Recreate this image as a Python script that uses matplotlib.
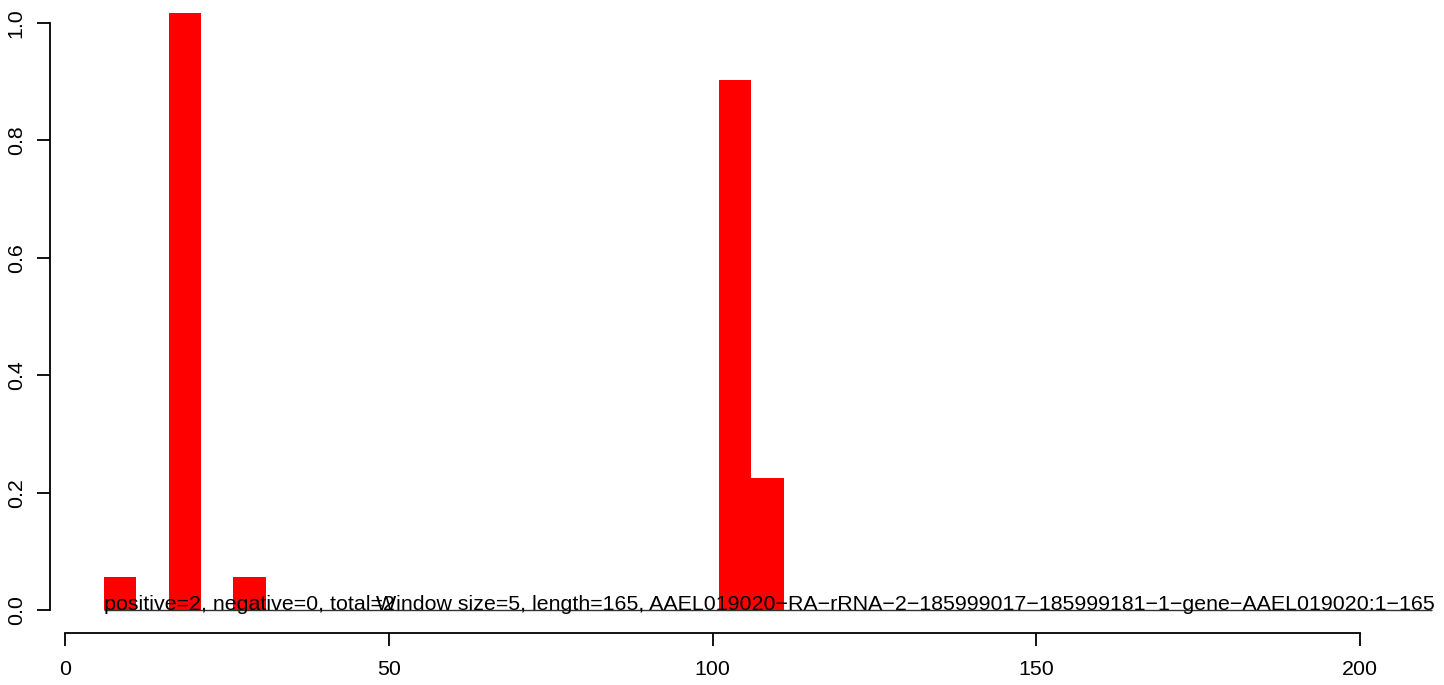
import numpy as np
import matplotlib
matplotlib.use('Agg')
import matplotlib.pyplot as plt

plt.rcParams['font.family'] = ['Liberation Sans', 'DejaVu Sans']

# window bars: left edge, right edge, height
bar_left = [6, 16, 26, 101, 106]
bar_right = [11, 21, 31, 106, 111]
bar_height = [0.056, 1.017, 0.056, 0.903, 0.225]

x_ticks = [0, 50, 100, 150, 200]
y_ticks = [0.0, 0.2, 0.4, 0.6, 0.8, 1.0]

info_left = 'positive=2, negative=0, total=2'
info_right = ('Window size=5, length=165, '
              'AAEL019020\u2212RA\u2212rRNA\u22122\u2212185999017\u2212185999181'
              '\u22121\u2212gene\u2212AAEL019020:1\u2212165')

W, H = 1444, 685
FS = 15.4
fig = plt.figure(figsize=(W / 100, H / 100), dpi=100)

# pixel geometry of the plot area
px0, px200 = 65, 1360
py0, py1 = 610, 23
sx = (px200 - px0) / 200
sy = (py0 - py1) / 1.0
left_px, right_px, bot_px, top_px = 50, 1440, 633, 5
ax = fig.add_axes([left_px / W, 1 - bot_px / H,
                   (right_px - left_px) / W, (bot_px - top_px) / H])
ax.set_xlim((left_px - px0) / sx, (right_px - px0) / sx)
ax.set_ylim(-(bot_px - py0) / sy, (py0 - top_px) / sy)

widths = np.array(bar_right) - np.array(bar_left)
ax.bar(bar_left, bar_height, width=widths, align='edge', color='red',
       edgecolor='none', linewidth=0)

ax.hlines(0, bar_left[0], 211.1, color='#333333', linewidth=1)
ax.text(bar_left[0], 0, info_left, fontsize=FS, ha='left', va='baseline')
ax.text((376 - px0) / sx, 0, info_right, fontsize=FS, ha='left',
        va='baseline')

for s in ['top', 'right']:
    ax.spines[s].set_visible(False)
ax.spines['left'].set_bounds(0, 1)
ax.spines['bottom'].set_bounds(0, 200)
for s in ['left', 'bottom']:
    ax.spines[s].set_linewidth(1.3)

ax.set_xticks(x_ticks)
ax.set_xticklabels([str(v) for v in x_ticks], fontsize=FS)
ax.set_yticks(y_ticks)
ax.set_yticklabels(['%.1f' % v for v in y_ticks], rotation=90, va='center',
                   fontsize=FS)
ax.tick_params(axis='both', length=9.5, width=1.3)
ax.tick_params(axis='x', pad=10)
ax.tick_params(axis='y', pad=8)
ax.patch.set_alpha(0)

fig.savefig('out.png', dpi=100)
